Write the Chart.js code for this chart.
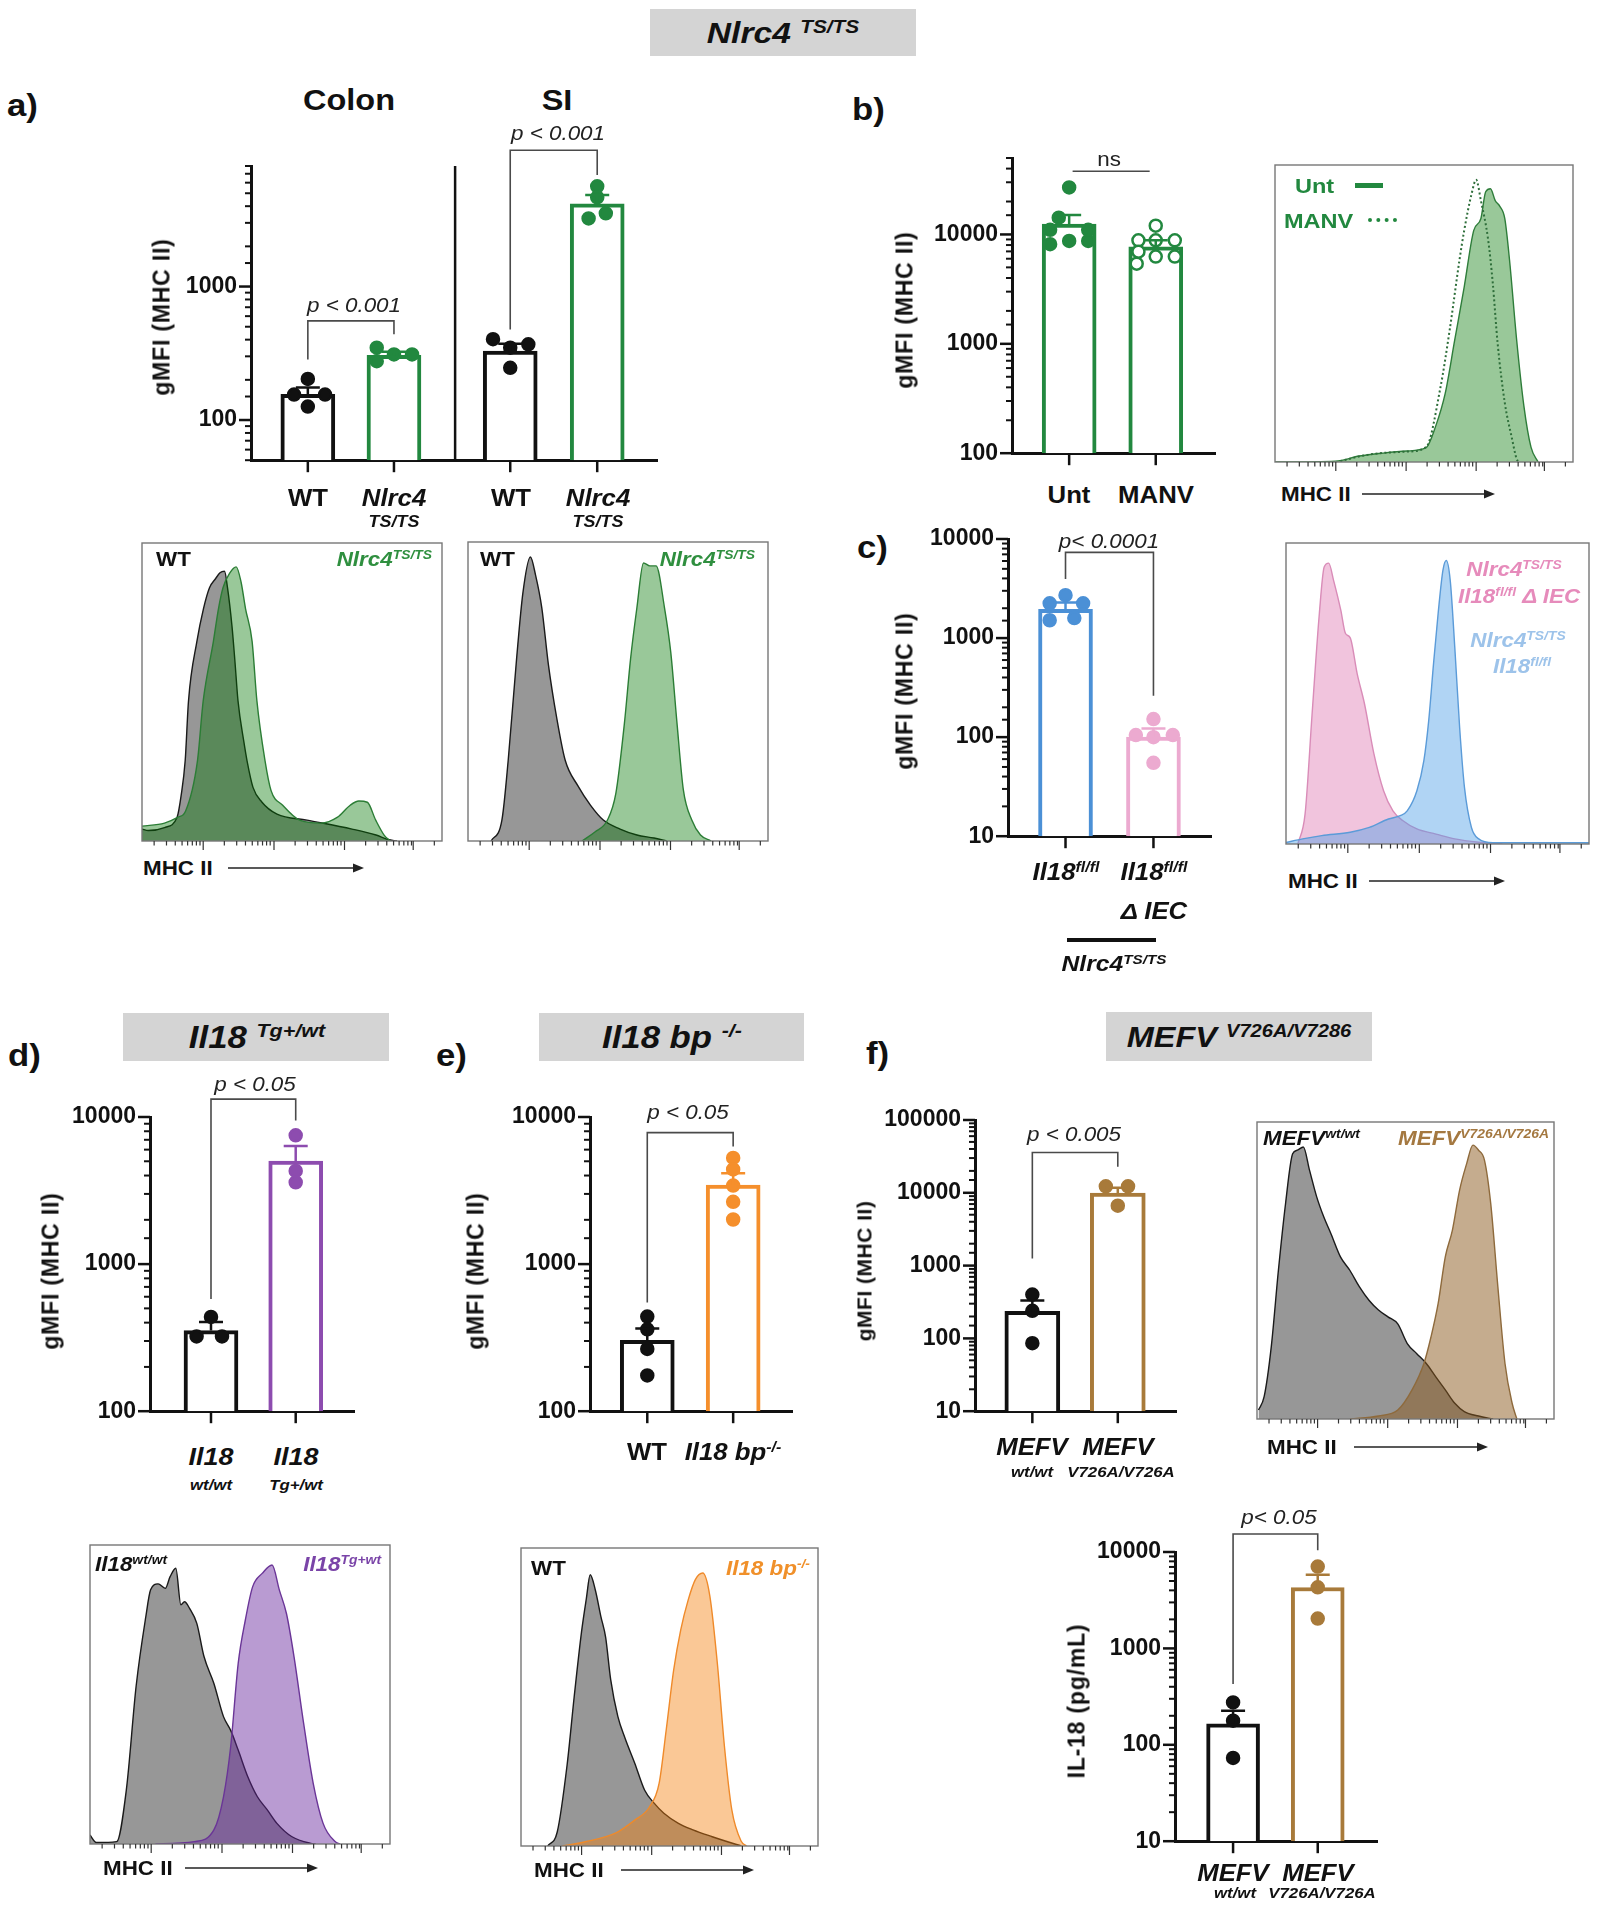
<!DOCTYPE html>
<html>
<head>
<meta charset="utf-8">
<script src="https://cdn.jsdelivr.net/npm/chart.js@4.4.1/dist/chart.umd.min.js"></script>
<style>
  body { margin: 0; background: #fff; }
  #fig { position: relative; width: 1605px; height: 1920px; overflow: hidden;
         font-family: "Liberation Sans", Arial, Helvetica, sans-serif; color: #111; background: #fff; }
  #fig canvas { position: absolute; }
  .t { position: absolute; white-space: nowrap; font-weight: bold; line-height: 1; }
  .t sup { font-size: 0.62em; position: relative; top: -0.55em; vertical-align: baseline; line-height: 0; }
  .hdr { position: absolute; background: #d4d4d4; }
</style>
</head>
<body>
<div id="fig"></div>
<script>
// ---- colours ----
const BLACK = '#111111';
const GREEN = '#22883f';
const BLUE = '#4b90d6';
const PINK = '#ecaad0';
const PURPLE = '#8d4caf';
const ORANGE = '#f58f2c';
const BROWN = '#a87a3a';

// ---- a) Colon / SI gMFI (MHC II) ----
const aPos = [0, 1, 2.35, 3.36];
const aMean = [156, 305, 328, 4170];
const aUpper = [175, 325, 373, 4860];
const aDots = [[203, 155, 155, 126], [348, 276, 310, 310], [403, 369, 348, 246], [5640, 4650, 3540, 3240]];
const aJit = [[0, -0.16, 0.2, 0], [-0.2, -0.2, 0, 0.21], [-0.2, 0.21, 0, 0], [0, 0, 0.1, -0.1]];
const aBrackets = [[0, 1, 553, 284, 439], [2.35, 3.36, 10500, 477, 6840]];

// ---- b) Unt vs MANV ----
const bPos = [0, 1];
const bMean = [12450, 7710];
const bUpper = [15070, 8840];
const bDots = [[26900, 14250, 11020, 11020, 8150, 8720, 8720], [12030, 8840, 8840, 8840, 6960, 6280, 5400, 6280]];
const bJit = [[0, -0.12, -0.22, 0.22, -0.22, 0, 0.22], [0, -0.2, 0, 0.22, -0.2, 0, -0.22, 0.22]];
const bBrackets = [[0.04, 0.93, 37800, 37800, 37800]];

// ---- c) Il18 fl/fl vs delta IEC ----
const cPos = [0, 1];
const cMean = [1954, 100];
const cUpper = [2290, 122];
const cDots = [[2710, 2240, 2240, 1594, 1513], [152, 105, 100, 105, 55]];
const cJit = [[0, -0.18, 0.2, 0.1, -0.18], [0, -0.2, 0, 0.22, 0]];
const cBrackets = [[0, 1, 7330, 3945, 261]];

// ---- d) Il18 Tg ----
const dPos = [0, 1];
const dMean = [353, 5010];
const dUpper = [404, 6350];
const dDots = [[437, 322, 322], [7510, 4300, 3600]];
const dJit = [[0, -0.17, 0.13], [0, 0, 0]];
const dBrackets = [[0, 1, 13220, 578, 9460]];

// ---- e) Il18 bp ----
const ePos = [0, 1];
const eMean = [303, 3450];
const eUpper = [365, 4140];
const eDots = [[440, 360, 265, 175], [5270, 4400, 3420, 2650, 2010]];
const eJit = [[0, 0, 0, 0], [0, 0, 0, 0, 0]];
const eBrackets = [[0, 1, 7830, 549, 6300]];

// ---- f) MEFV gMFI ----
const fPos = [0, 1];
const fMean = [235, 9900];
const fUpper = [332, 11700];
const fDots = [[400, 239, 86], [12290, 12290, 6640]];
const fJit = [[0, 0, 0], [-0.14, 0.12, 0]];
const fBrackets = [[0, 1, 35700, 1256, 22800]];

// ---- f) MEFV IL-18 ----
const gPos = [0, 1];
const gMean = [165, 4280];
const gUpper = [226, 5820];
const gDots = [[275, 178, 73], [7060, 4300, 2040]];
const gJit = [[0, 0, 0], [0, 0, 0]];
const gBrackets = [[0, 1, 15350, 427, 10400]];

// ---- histograms (x: % of axis, y: % of max) ----
const h1GrayX = [0, 2.1, 7.5, 11.7, 13, 14.4, 15.5, 18.3, 20.5, 22.5, 24.5, 26, 27.5, 28.5, 30, 31, 32, 34, 35, 37, 40, 45, 55, 70, 78, 82, 85];
const h1GrayY = [4, 3.5, 4.5, 8, 15, 27, 47, 67, 78, 85, 88, 90, 90.5, 85, 72, 60, 47, 33, 27, 18, 13, 9, 7, 4, 2, 0.5, 0];
const h1GreenX = [0, 7.5, 12, 14.5, 18.5, 20.4, 23.8, 25.5, 27, 29.3, 31.4, 33, 34.5, 36.7, 38.3, 41, 43, 46.9, 52.5, 59.6, 65.2, 69.4, 72.3, 75.1, 77.9, 80.7, 82.8];
const h1GreenY = [5, 6, 8, 10, 27, 47, 67, 78, 85, 90, 92, 87, 78, 67, 47, 27, 17, 12, 7, 6, 8, 12, 13.4, 13, 7, 2, 0];
const h2GrayX = [7.7, 11.3, 13.4, 16.2, 18.3, 20.8, 22.5, 24.6, 26.8, 29.6, 32.4, 36.6, 40.8, 45.1, 50.7, 56.3, 62, 66.2];
const h2GrayY = [0, 7, 27, 61, 83, 95, 89, 78, 59, 41, 27, 18.5, 12, 7, 4, 2, 1, 0];
const h2GreenX = [38, 42.3, 46.5, 49.3, 52.1, 54.2, 56.3, 58.5, 60.6, 62.7, 65.5, 67.6, 69.7, 71.8, 74.6, 77.5, 81];
const h2GreenY = [0, 3, 7, 16, 39, 61, 78, 93, 92, 92, 78, 63, 39, 17, 7, 2, 0];
const hbUntX = [0, 20.3, 28.3, 36.3, 44.3, 50.7, 53.9, 57.1, 60.3, 63.5, 66.7, 69.1, 70.7, 72.3, 73.9, 75.5, 77.1, 78.7, 81.1, 83.5, 85.9, 88.3];
const hbUntY = [0, 0.3, 2, 3, 3.7, 4.8, 12, 23, 41, 59, 78, 82, 91, 92, 88, 86, 82, 68, 41, 19, 5, 0];
const hbManvX = [21.9, 31.5, 44.3, 50.7, 55.5, 58.7, 61.9, 63.5, 65.9, 67.5, 69.1, 71.5, 73.1, 74.7, 77.1, 79.5, 81.1, 81.9];
const hbManvY = [0.3, 2.5, 3.5, 5, 25, 45, 68, 78, 90, 95, 88, 75, 60, 40, 20, 8, 1, 0];
const hcPinkX = [3.9, 6.3, 8.6, 11, 12.6, 14.1, 15.7, 18.1, 19.6, 21.2, 23.5, 25.9, 29, 32.2, 35.3, 38.5, 43.2, 49.5, 55.7, 63.6, 71.4];
const hcPinkY = [0, 10, 43, 76.5, 92, 93.3, 87.6, 77.6, 70, 68.5, 56.5, 46.6, 30, 17.7, 11, 7.8, 5, 3.3, 1.7, 0.6, 0];
const hcBlueX = [0, 5.5, 11.8, 21.2, 27.5, 33.8, 37.7, 40, 43.2, 45.5, 47.1, 48.7, 50.2, 51.8, 52.9, 54.2, 55.7, 57.3, 58.9, 61.2, 63.6, 68.3, 100];
const hcBlueY = [0.5, 1.7, 2.8, 3.9, 5.5, 8.3, 9.4, 11, 17.7, 27.7, 41, 60, 76.5, 91, 94.2, 87.6, 65.4, 38.8, 18.8, 5.5, 1.7, 0.4, 0.4];
const hdGrayX = [0, 2.1, 8.9, 12.1, 15.4, 18.6, 20.2, 22.7, 25.1, 26.7, 28.6, 30.3, 31.5, 33.2, 35.6, 38, 41.3, 44.5, 46.9, 49.4, 52.6, 55.8, 59.1, 62.3, 67.2, 73.6, 75.2];
const hdGrayY = [3, 0.5, 0.8, 18, 53, 76, 85, 87, 85.5, 89.4, 92.2, 80, 81, 78.8, 73.8, 62.7, 53.7, 42.6, 38, 31.4, 22.5, 15.8, 11.4, 6.9, 2.5, 0.2, 0];
const hdPurpX = [21.8, 34.8, 41.3, 44.5, 46.9, 49.4, 51.8, 54.2, 57.4, 60.7, 63.1, 65.5, 68, 71.2, 74.4, 77.7, 81.7, 83.3];
const hdPurpY = [0, 0.8, 4.7, 15.8, 32.6, 60.4, 75, 86, 90.5, 93.3, 85, 77, 62.7, 40.4, 20.3, 6.9, 0.8, 0];
const heGrayX = [9, 12.2, 15.5, 17.9, 20.4, 22, 23.3, 25, 26.9, 28.5, 30.2, 32.6, 35.1, 38.3, 41.6, 44.9, 48.1, 53, 57.9, 64.4, 69.3, 74.2];
const heGrayY = [0, 4.7, 27, 50, 72, 83, 91, 86, 77, 70, 55.8, 43.5, 36, 27.8, 18.8, 14.3, 11, 7.6, 5.4, 3.1, 1.5, 0];
const heOrX = [13.9, 22, 31.8, 38.3, 43.2, 46.5, 48.9, 51.4, 53.8, 56.3, 58.7, 61.2, 63.6, 66.1, 68.5, 71, 74.2, 75.9];
const heOrY = [0, 1.5, 4.3, 8.7, 13, 21, 39, 59, 72.6, 82.6, 89.4, 91.6, 83.8, 61.4, 33.4, 12, 1.5, 0];
const hfGrayX = [0.5, 2.4, 4.8, 7.2, 9.6, 12, 13.6, 15.6, 17.7, 20.1, 22.5, 24.9, 28.1, 31.3, 34.5, 37.7, 40.9, 44.1, 47.4, 50.6, 53.8, 57, 60.2, 63.4, 66.6, 69.8, 74.6, 79.5];
const hfGrayY = [3, 7.5, 24.3, 50, 72.4, 89.3, 90.5, 91.6, 83.7, 74.8, 68, 62.4, 54.6, 50, 44.5, 40, 36.7, 34.4, 32, 25.4, 22, 18.7, 14.2, 9.8, 5.3, 2.5, 1, 0];
const hfTanX = [31.3, 40.9, 47.4, 52.2, 56.2, 58.6, 61, 63.4, 65.8, 68.2, 70.6, 72.7, 74.6, 76.6, 78.7, 81.1, 83.5, 85.9, 87.5];
const hfTanY = [0, 1, 3, 9.8, 18.7, 27.7, 38.9, 54.6, 63.6, 77, 86, 92.2, 90.5, 87.1, 72.5, 44.5, 18.7, 5.3, 0];
// flow axis decades (% of axis width)
const histDecades = [20.4, 44, 67.5, 90.4];
const decadeW = 23.4;

const FONT = '"Liberation Sans", Arial, Helvetica, sans-serif';
const fig = document.getElementById('fig');

// ---------- text helpers ----------
function txt(html, x, y, o = {}) {
    const d = document.createElement('div');
    d.className = 't';
    d.innerHTML = html;
    const s = d.style;
    s.left = x + 'px';
    s.top = y + 'px';
    s.fontSize = (o.size || 23) + 'px';
    if (o.italic) s.fontStyle = 'italic';
    if (o.normal) s.fontWeight = 'normal';
    if (o.color) s.color = o.color;
    if (o.ls) s.letterSpacing = o.ls + 'px';
    const ax = o.anchor === 'l' ? '0' : o.anchor === 'r' ? '-100%' : '-50%';
    s.transformOrigin = o.anchor === 'l' ? 'left center' : o.anchor === 'r' ? 'right center' : 'center center';
    s.transform = o.rot ? 'translate(-50%,-50%) rotate(-90deg)' : `translate(${ax},-50%) scaleX(1.12)`;
    fig.appendChild(d);
}
const yTitle = (s, x, y, size = 23, ls = 0.8) => txt(s, x, y, { size, ls, rot: true });
const pval = (s, x, y) => txt(s, x, y, { size: 20, italic: true, normal: true, color: '#222' });
function hdr(x, y, w, h) {
    const d = document.createElement('div');
    d.className = 'hdr';
    Object.assign(d.style, { left: x + 'px', top: y + 'px', width: w + 'px', height: h + 'px' });
    fig.appendChild(d);
}
function rule(x, y, w, h, css) {
    const d = document.createElement('div');
    Object.assign(d.style, { position: 'absolute', left: x + 'px', top: y + 'px', width: w + 'px', height: h + 'px' }, css);
    fig.appendChild(d);
}
function arrow(x1, x2, y) {
    const ns = 'http://www.w3.org/2000/svg';
    const s = document.createElementNS(ns, 'svg');
    const w = x2 - x1;
    s.setAttribute('width', w + 2);
    s.setAttribute('height', 12);
    Object.assign(s.style, { position: 'absolute', left: x1 + 'px', top: (y - 6) + 'px' });
    s.innerHTML = `<line x1="0" y1="6" x2="${w - 6}" y2="6" stroke="#222" stroke-width="1.6"/>` +
        `<path d="M${w - 11},1.5 L${w},6 L${w - 11},10.5 Z" fill="#222"/>`;
    fig.appendChild(s);
}

// ---------- bar chart with dots, SEM and p brackets ----------
const YW = 110, PT = 50, PR = 8, PB = 20;
const isDecade = v => Math.abs(Math.log10(v) - Math.round(Math.log10(v))) < 1e-9;

function barChart(c) {
    const cv = document.createElement('canvas');
    const w = Math.round(YW + (c.right - c.axisX) + PR);
    const h = Math.round(PT + (c.bottom - c.top) + PB);
    cv.width = w; cv.height = h;
    cv.style.left = Math.round(c.axisX - YW) + 'px';
    cv.style.top = Math.round(c.top - PT) + 'px';
    fig.appendChild(cv);

    const pts = [], bg = [], bc = [];
    c.dots.forEach((arr, i) => arr.forEach((v, j) => {
        pts.push({ x: c.pos[i] + c.jit[i][j], y: v });
        bg.push(c.open && c.open[i] ? '#fff' : c.colors[i]);
        bc.push(c.colors[i]);
    }));

    const deco = {
        id: 'deco',
        afterDatasetsDraw(ch) {
            const { ctx, scales: { x, y } } = ch;
            ctx.save();
            ctx.lineWidth = 2.5;
            c.pos.forEach((p, i) => {
                const px = x.getPixelForValue(p);
                const y0 = y.getPixelForValue(c.mean[i]);
                const y1 = y.getPixelForValue(c.upper[i]);
                ctx.strokeStyle = c.colors[i];
                ctx.beginPath();
                ctx.moveTo(px, y0); ctx.lineTo(px, y1);
                ctx.moveTo(px - 12, y1); ctx.lineTo(px + 12, y1);
                ctx.stroke();
            });
            ctx.restore();
        },
        afterDraw(ch) {
            const { ctx, chartArea: ca, scales: { x, y } } = ch;
            ctx.save();
            ctx.strokeStyle = BLACK;
            // log ticks, long on decades
            y.ticks.forEach(t => {
                const py = y.getPixelForValue(t.value);
                const L = isDecade(t.value) ? 12 : 6;
                ctx.lineWidth = isDecade(t.value) ? 2.5 : 2;
                ctx.beginPath(); ctx.moveTo(ca.left - L, py); ctx.lineTo(ca.left, py); ctx.stroke();
            });
            ctx.lineWidth = 2.5;
            c.pos.forEach(p => {
                const px = x.getPixelForValue(p);
                ctx.beginPath(); ctx.moveTo(px, ca.bottom); ctx.lineTo(px, ca.bottom + 12); ctx.stroke();
            });
            if (c.divider !== undefined) {
                const px = x.getPixelForValue(c.divider);
                ctx.lineWidth = 2.5;
                ctx.beginPath(); ctx.moveTo(px, ca.top); ctx.lineTo(px, ca.bottom); ctx.stroke();
            }
            ctx.strokeStyle = '#4a4a4a';
            ctx.lineWidth = 1.6;
            c.brackets.forEach(([x0, x1, top, lv, rv]) => {
                const px0 = x.getPixelForValue(x0), px1 = x.getPixelForValue(x1);
                ctx.beginPath();
                ctx.moveTo(px0, y.getPixelForValue(lv));
                ctx.lineTo(px0, y.getPixelForValue(top));
                ctx.lineTo(px1, y.getPixelForValue(top));
                ctx.lineTo(px1, y.getPixelForValue(rv));
                ctx.stroke();
            });
            ctx.restore();
        }
    };

    return new Chart(cv, {
        type: 'bar',
        data: {
            datasets: [
                {
                    type: 'scatter', data: pts, order: 1,
                    pointRadius: c.dotR || 6, pointBackgroundColor: bg, pointBorderColor: bc,
                    pointBorderWidth: 2.5, pointHoverRadius: 6,
                },
                {
                    type: 'bar', order: 2,
                    data: c.pos.map((p, i) => ({ x: p, y: c.mean[i] })),
                    backgroundColor: '#ffffff', borderColor: c.colors, borderWidth: 4,
                    barThickness: c.barW || 54, borderSkipped: 'start',
                },
            ],
        },
        options: {
            responsive: false, animation: false, devicePixelRatio: 1,
            layout: { padding: { left: 0, top: PT, right: PR, bottom: PB } },
            plugins: { legend: { display: false }, tooltip: { enabled: false } },
            scales: {
                x: {
                    type: 'linear', min: c.xMin, max: c.xMax, offset: false,
                    afterFit: s => { s.height = 0; },
                    grid: { display: false, drawTicks: false },
                    ticks: { display: false },
                    border: { display: true, color: BLACK, width: 3 },
                },
                y: {
                    type: 'logarithmic', min: c.yMin, max: c.yMax,
                    afterFit: s => { s.width = YW; },
                    grid: { display: false, drawTicks: false },
                    border: { display: true, color: BLACK, width: 3 },
                    ticks: {
                        autoSkip: false, padding: 14, color: BLACK,
                        font: { family: FONT, size: 23, weight: 'bold' },
                        callback: v => (isDecade(v) ? String(Math.round(v)) : ''),
                    },
                },
            },
        },
        plugins: [deco],
    });
}

// ---------- flow histogram overlay ----------
function histChart(c) {
    const cv = document.createElement('canvas');
    cv.width = Math.round(c.w + 8);
    cv.height = Math.round(c.h + 4 + 16);
    cv.style.left = Math.round(c.left - 4) + 'px';
    cv.style.top = Math.round(c.top - 4) + 'px';
    fig.appendChild(cv);

    const box = {
        id: 'box',
        afterDraw(ch) {
            const { ctx, chartArea: ca, scales: { x } } = ch;
            ctx.save();
            ctx.strokeStyle = '#777';
            ctx.lineWidth = 1.4;
            ctx.strokeRect(ca.left, ca.top, ca.right - ca.left, ca.bottom - ca.top);
            ctx.strokeStyle = '#333';
            ctx.lineWidth = 1.2;
            const tick = (v, L) => {
                const px = x.getPixelForValue(v);
                ctx.beginPath(); ctx.moveTo(px, ca.bottom); ctx.lineTo(px, ca.bottom + L); ctx.stroke();
            };
            [histDecades[0] - decadeW, ...histDecades].forEach((d, i) => {
                if (i > 0) tick(d, 9);
                for (let k = 2; k < 10; k++) {
                    const p = d + decadeW * Math.log10(k);
                    if (p > 0.5 && p < 99.5) tick(p, 4.5);
                }
            });
            ctx.restore();
        }
    };

    return new Chart(cv, {
        type: 'line',
        data: {
            datasets: c.series.map(s => ({
                data: s.x.map((v, i) => ({ x: v, y: s.y[i] })),
                fill: s.fill ? 'origin' : false,
                backgroundColor: s.fill || 'rgba(0,0,0,0)',
                borderColor: s.line, borderWidth: s.lw || 1.4, borderDash: s.dash || [],
                pointRadius: 0, cubicInterpolationMode: 'monotone',
            })),
        },
        options: {
            responsive: false, animation: false, devicePixelRatio: 1,
            layout: { padding: { left: 4, top: 4, right: 4, bottom: 16 } },
            plugins: { legend: { display: false }, tooltip: { enabled: false } },
            scales: {
                x: { type: 'linear', min: 0, max: 100, display: false },
                y: { type: 'linear', min: 0, max: 100, display: false },
            },
        },
        plugins: [box],
    });
}

const GRAYFILL = '#979797', GRAYLINE = '#1a1a1a';

// ================= headers & panel letters =================
hdr(650, 9, 266, 47);
txt('Nlrc4 <sup>TS/TS</sup>', 783, 33, { size: 30, italic: true });
hdr(123, 1013, 266, 48);
txt('Il18 <sup>Tg+/wt</sup>', 257, 1037, { size: 31, italic: true });
hdr(539, 1013, 265, 48);
txt('Il18 bp <sup>-/-</sup>', 672, 1037, { size: 31, italic: true });
hdr(1106, 1012, 266, 49);
txt('MEFV <sup>V726A/V7286</sup>', 1239, 1037, { size: 29, italic: true });

txt('a)', 7, 105, { size: 31, anchor: 'l' });
txt('b)', 852, 109, { size: 31, anchor: 'l' });
txt('c)', 857, 547, { size: 31, anchor: 'l' });
txt('d)', 8, 1055, { size: 31, anchor: 'l' });
txt('e)', 436, 1055, { size: 31, anchor: 'l' });
txt('f)', 866, 1053, { size: 31, anchor: 'l' });

// ================= a) =================
barChart({
    axisX: 250.6, top: 166, right: 658, bottom: 468,
    yMin: 50, yMax: 8000, xMin: -0.66, xMax: 4.06,
    pos: aPos, mean: aMean, upper: aUpper, dots: aDots, jit: aJit,
    colors: [BLACK, GREEN, BLACK, GREEN], brackets: aBrackets, divider: 1.71,
});
txt('Colon', 349, 100, { size: 29 });
txt('SI', 557, 100, { size: 29 });
yTitle('gMFI (MHC II)', 162, 317);
txt('WT', 307.6, 498);
txt('<i>Nlrc4</i>', 394, 498);
txt('<i>TS/TS</i>', 394, 522, { size: 16 });
txt('WT', 511, 498);
txt('<i>Nlrc4</i>', 598, 498);
txt('<i>TS/TS</i>', 598, 522, { size: 16 });
pval('p &lt; 0.001', 354, 305);
pval('p &lt; 0.001', 558, 133);

histChart({
    left: 141.8, top: 543.3, w: 299.7, h: 297.7,
    series: [
        { x: h1GreenX, y: h1GreenY, fill: 'rgba(0,117,0,0.4)', line: '#2b7d35' },
        { x: h1GrayX, y: h1GrayY, fill: GRAYFILL, line: GRAYLINE },
    ],
});
histChart({
    left: 468, top: 542, w: 300, h: 299,
    series: [
        { x: h2GreenX, y: h2GreenY, fill: 'rgba(0,117,0,0.4)', line: '#2b7d35' },
        { x: h2GrayX, y: h2GrayY, fill: GRAYFILL, line: GRAYLINE },
    ],
});
txt('WT', 156, 559, { size: 20, anchor: 'l' });
txt('<i>Nlrc4<sup>TS/TS</sup></i>', 432, 559, { size: 20, anchor: 'r', color: '#2f8f3f' });
txt('WT', 480, 559, { size: 20, anchor: 'l' });
txt('<i>Nlrc4<sup>TS/TS</sup></i>', 755, 559, { size: 20, anchor: 'r', color: '#2f8f3f' });
txt('MHC II', 143, 868, { size: 20, anchor: 'l' });
arrow(228, 364, 868);

// ================= b) =================
barChart({
    axisX: 1011.7, top: 158, right: 1215.7, bottom: 461.3,
    yMin: 100, yMax: 50000, xMin: -0.66, xMax: 1.69,
    pos: bPos, mean: bMean, upper: bUpper, dots: bDots, jit: bJit, open: [false, true],
    colors: [GREEN, GREEN], brackets: bBrackets,
});
yTitle('gMFI (MHC II)', 904.5, 310);
txt('ns', 1109.4, 159, { size: 20, normal: true, color: '#222' });
txt('Unt', 1069, 495);
txt('MANV', 1155.6, 495);
histChart({
    left: 1275.2, top: 165.3, w: 297.8, h: 297,
    series: [
        { x: hbManvX, y: hbManvY, fill: null, line: '#2e6e3a', lw: 2, dash: [2, 2.5] },
        { x: hbUntX, y: hbUntY, fill: 'rgba(0,117,0,0.4)', line: '#2e7d3a' },
    ],
});
txt('Unt', 1295, 185, { size: 21, anchor: 'l', color: GREEN });
rule(1355, 182.5, 28, 5, { background: GREEN });
txt('MANV', 1284, 220, { size: 21, anchor: 'l', color: GREEN });
rule(1368, 218, 29, 0, { borderTop: '4px dotted ' + GREEN });
txt('MHC II', 1281, 494, { size: 20, anchor: 'l' });
arrow(1362, 1495, 494);

// ================= c) =================
barChart({
    axisX: 1008, top: 539, right: 1211.8, bottom: 844,
    yMin: 10, yMax: 10000, xMin: -0.654, xMax: 1.66,
    pos: cPos, mean: cMean, upper: cUpper, dots: cDots, jit: cJit,
    colors: [BLUE, PINK], brackets: cBrackets,
});
yTitle('gMFI (MHC II)', 904.5, 691);
pval('p&lt; 0.0001', 1109.4, 541);
txt('<i>Il18<sup>fl/fl</sup></i>', 1065.6, 872);
txt('<i>Il18<sup>fl/fl</sup></i>', 1153.7, 872);
txt('<i>Δ IEC</i>', 1153.7, 911);
rule(1066.5, 938, 89, 4, { background: BLACK });
txt('<i>Nlrc4<sup>TS/TS</sup></i>', 1114, 964, { size: 22 });
histChart({
    left: 1285.7, top: 543.3, w: 303.3, h: 300.7,
    series: [
        { x: hcBlueX, y: hcBlueY, fill: 'rgba(80,160,230,0.45)', line: '#5b9bd8' },
        { x: hcPinkX, y: hcPinkY, fill: '#f1c4dd', line: '#d98cb8' },
    ],
});
txt('<i>Nlrc4<sup>TS/TS</sup></i>', 1514, 569, { size: 20, color: '#e68bbb' });
txt('<i>Il18<sup>fl/fl</sup> Δ IEC</i>', 1519, 596, { size: 20, color: '#e68bbb' });
txt('<i>Nlrc4<sup>TS/TS</sup></i>', 1518, 640, { size: 20, color: '#9dc3ea' });
txt('<i>Il18<sup>fl/fl</sup></i>', 1522, 666, { size: 20, color: '#9dc3ea' });
txt('MHC II', 1288, 881, { size: 20, anchor: 'l' });
arrow(1369, 1505, 881);

// ================= d) =================
barChart({
    axisX: 149.8, top: 1117.3, right: 355, bottom: 1419,
    yMin: 100, yMax: 10000, xMin: -0.72, xMax: 1.694,
    pos: dPos, mean: dMean, upper: dUpper, dots: dDots, jit: dJit,
    colors: [BLACK, PURPLE], brackets: dBrackets,
});
yTitle('gMFI (MHC II)', 50.5, 1271);
pval('p &lt; 0.05', 255, 1084);
txt('<i>Il18</i>', 211, 1457, { size: 24 });
txt('<i>wt/wt</i>', 211, 1484, { size: 15 });
txt('<i>Il18</i>', 296, 1457, { size: 24 });
txt('<i>Tg+/wt</i>', 296, 1484, { size: 15 });
histChart({
    left: 90, top: 1545, w: 299.5, h: 299,
    series: [
        { x: hdPurpX, y: hdPurpY, fill: 'rgba(100,33,155,0.45)', line: '#6a3597' },
        { x: hdGrayX, y: hdGrayY, fill: GRAYFILL, line: GRAYLINE },
    ],
});
txt('<i>Il18<sup>wt/wt</sup></i>', 95, 1564, { size: 20, anchor: 'l' });
txt('<i>Il18<sup>Tg+wt</sup></i>', 381, 1564, { size: 20, anchor: 'r', color: '#7a44a8' });
txt('MHC II', 103, 1868, { size: 20, anchor: 'l' });
arrow(185, 318, 1868);

// ================= e) =================
barChart({
    axisX: 589.8, top: 1117.3, right: 792.8, bottom: 1419,
    yMin: 100, yMax: 10000, xMin: -0.667, xMax: 1.691,
    pos: ePos, mean: eMean, upper: eUpper, dots: eDots, jit: eJit,
    colors: [BLACK, ORANGE], brackets: eBrackets,
});
yTitle('gMFI (MHC II)', 475.6, 1271);
pval('p &lt; 0.05', 688, 1112);
txt('WT', 647.2, 1452);
txt('<i>Il18 bp<sup>-/-</sup></i>', 733.3, 1452);
histChart({
    left: 521.4, top: 1548.3, w: 297.1, h: 297.7,
    series: [
        { x: heOrX, y: heOrY, fill: 'rgba(244,128,12,0.43)', line: '#ef8a2a' },
        { x: heGrayX, y: heGrayY, fill: GRAYFILL, line: GRAYLINE },
    ],
});
txt('WT', 531, 1568, { size: 20, anchor: 'l' });
txt('<i>Il18 bp<sup>-/-</sup></i>', 810, 1568, { size: 20, anchor: 'r', color: '#f0902a' });
txt('MHC II', 533.5, 1870, { size: 20, anchor: 'l' });
arrow(621, 754, 1870);

// ================= f) =================
barChart({
    axisX: 974.6, top: 1120, right: 1177, bottom: 1419,
    yMin: 10, yMax: 100000, xMin: -0.671, xMax: 1.687,
    pos: fPos, mean: fMean, upper: fUpper, dots: fDots, jit: fJit,
    colors: [BLACK, BROWN], brackets: fBrackets, barW: 55,
});
yTitle('gMFI (MHC II)', 864, 1271, 21, 0.5);
pval('p &lt; 0.005', 1073.7, 1134);
txt('<i>MEFV</i>', 1032, 1447);
txt('<i>MEFV</i>', 1118, 1447);
txt('<i>wt/wt</i>', 1032, 1471, { size: 15 });
txt('<i>V726A/V726A</i>', 1121, 1471, { size: 15 });
histChart({
    left: 1257.1, top: 1122.3, w: 296.8, h: 297.4,
    series: [
        { x: hfTanX, y: hfTanY, fill: 'rgba(140,90,30,0.5)', line: '#8e6a3c' },
        { x: hfGrayX, y: hfGrayY, fill: GRAYFILL, line: GRAYLINE },
    ],
});
txt('<i>MEFV<sup>wt/wt</sup></i>', 1263, 1138, { size: 20, anchor: 'l' });
txt('<i>MEFV<sup>V726A/V726A</sup></i>', 1549, 1138, { size: 20, anchor: 'r', color: '#a47840' });
txt('MHC II', 1266.6, 1447, { size: 20, anchor: 'l' });
arrow(1354, 1488, 1447);

// ---- IL-18 serum ----
barChart({
    axisX: 1175, top: 1551.7, right: 1378.3, bottom: 1848.3,
    yMin: 10, yMax: 10000, xMin: -0.686, xMax: 1.706,
    pos: gPos, mean: gMean, upper: gUpper, dots: gDots, jit: gJit,
    colors: [BLACK, BROWN], brackets: gBrackets, barW: 53,
});
yTitle('IL-18 (pg/mL)', 1076.7, 1701);
pval('p&lt; 0.05', 1279.3, 1517);
txt('<i>MEFV</i>', 1233.3, 1873);
txt('<i>MEFV</i>', 1318.3, 1873);
txt('<i>wt/wt</i>', 1235, 1892, { size: 15 });
txt('<i>V726A/V726A</i>', 1321.7, 1892, { size: 15 });
</script>
</body>
</html>
